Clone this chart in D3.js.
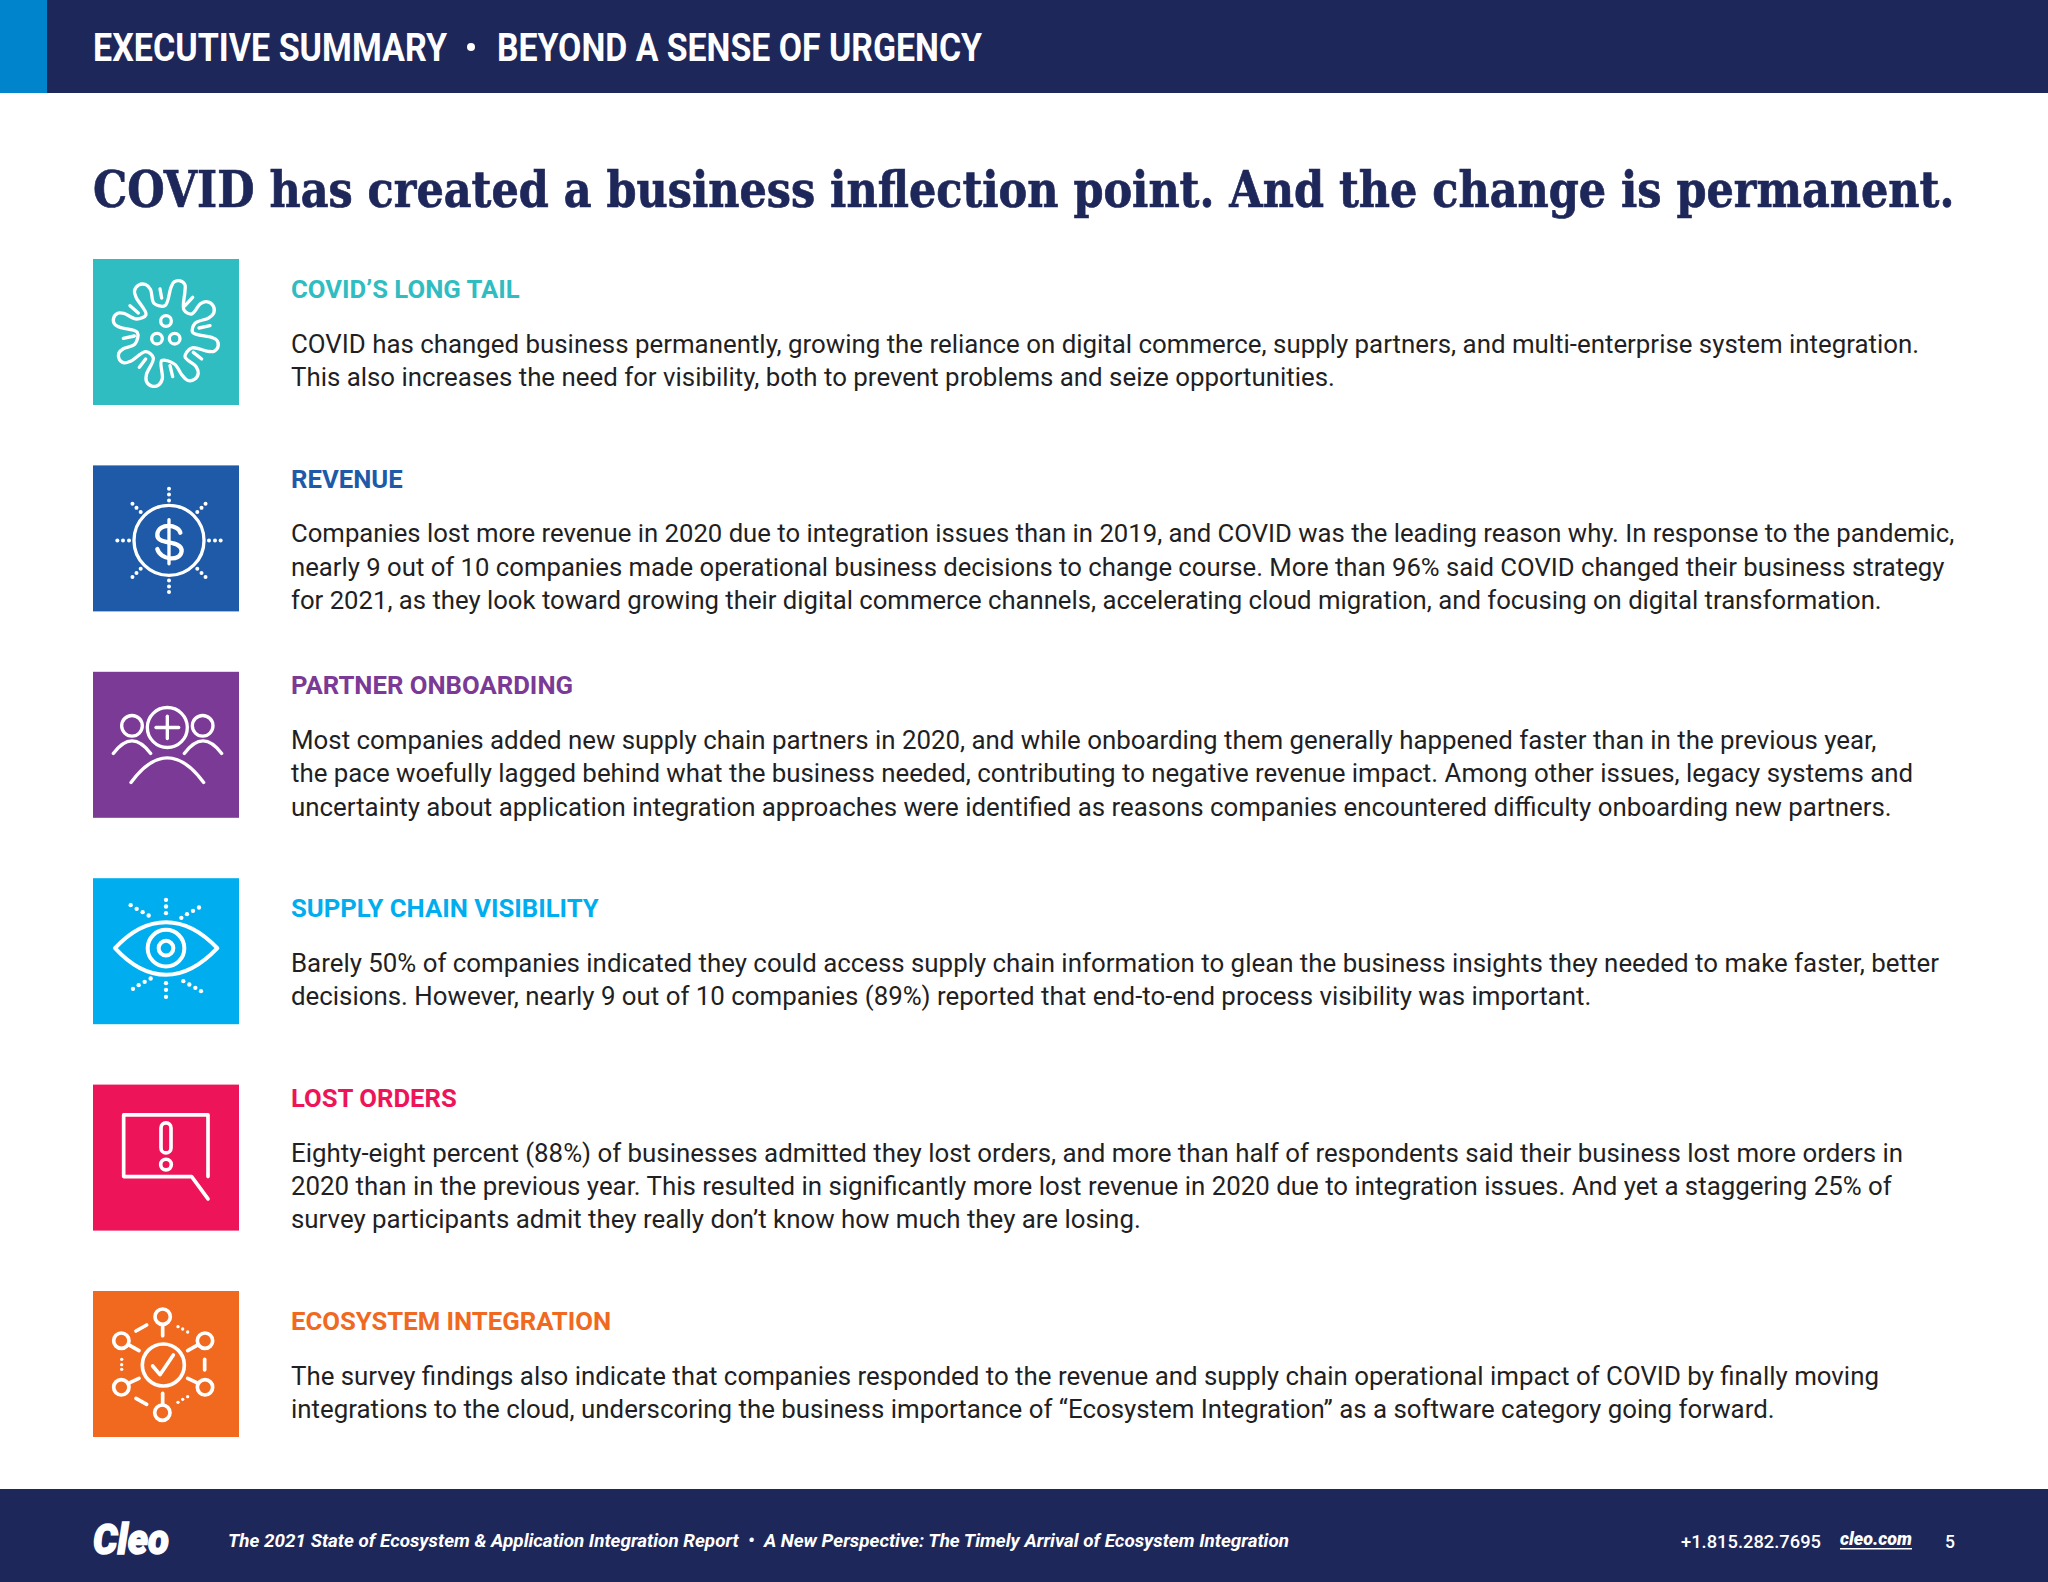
<!DOCTYPE html>
<html>
<head>
<meta charset="utf-8">
<script src="https://cdn.jsdelivr.net/npm/d3@7"></script>
<style>
  html, body { margin: 0; padding: 0; background: #fff; }
  svg { display: block; }
  text { font-family: Roboto, sans-serif; }
</style>
</head>
<body>
<div id="chart"></div>
<script>
const headerLeft = "EXECUTIVE SUMMARY";
const headerRight = "BEYOND A SENSE OF URGENCY";
const pageTitle = "COVID has created a business inflection point. And the change is permanent.";

const sectionNames = [
  "COVID’S LONG TAIL",
  "REVENUE",
  "PARTNER ONBOARDING",
  "SUPPLY CHAIN VISIBILITY",
  "LOST ORDERS",
  "ECOSYSTEM INTEGRATION",
];
const sectionColors = ["#2fbdc1", "#1e5aa8", "#7b3a96", "#00aeef", "#ed1459", "#f0691f"];
const sectionLines = [
  [
    "COVID has changed business permanently, growing the reliance on digital commerce, supply partners, and multi-enterprise system integration.",
    "This also increases the need for visibility, both to prevent problems and seize opportunities.",
  ],
  [
    "Companies lost more revenue in 2020 due to integration issues than in 2019, and COVID was the leading reason why. In response to the pandemic,",
    "nearly 9 out of 10 companies made operational business decisions to change course. More than 96% said COVID changed their business strategy",
    "for 2021, as they look toward growing their digital commerce channels, accelerating cloud migration, and focusing on digital transformation.",
  ],
  [
    "Most companies added new supply chain partners in 2020, and while onboarding them generally happened faster than in the previous year,",
    "the pace woefully lagged behind what the business needed, contributing to negative revenue impact. Among other issues, legacy systems and",
    "uncertainty about application integration approaches were identified as reasons companies encountered difficulty onboarding new partners.",
  ],
  [
    "Barely 50% of companies indicated they could access supply chain information to glean the business insights they needed to make faster, better",
    "decisions. However, nearly 9 out of 10 companies (89%) reported that end-to-end process visibility was important.",
  ],
  [
    "Eighty-eight percent (88%) of businesses admitted they lost orders, and more than half of respondents said their business lost more orders in",
    "2020 than in the previous year. This resulted in significantly more lost revenue in 2020 due to integration issues. And yet a staggering 25% of",
    "survey participants admit they really don’t know how much they are losing.",
  ],
  [
    "The survey findings also indicate that companies responded to the revenue and supply chain operational impact of COVID by finally moving",
    "integrations to the cloud, underscoring the business importance of “Ecosystem Integration” as a software category going forward.",
  ],
];

const footerReport = "The 2021 State of Ecosystem & Application Integration Report  •  A New Perspective: The Timely Arrival of Ecosystem Integration";
const footerPhone = "+1.815.282.7695";
const footerSite = "cleo.com";
const footerPage = "5";

const width = 2048;
const height = 1582;
const navy = "#1e2759";
const ink = "#1f1f24";
const boxSize = 146;
const bodyStep = 33.4;

const svg = d3.select("#chart").append("svg").attr("width", width).attr("height", height);

// stretch or squeeze a text to the width it has in the original
function fit(sel, w) {
  return sel.attr("textLength", w).attr("lengthAdjust", "spacingAndGlyphs").style("white-space", "pre");
}

// header
svg.append("rect").attr("width", width).attr("height", 93).attr("fill", navy);
svg.append("rect").attr("width", 47).attr("height", 93).attr("fill", "#0085cc");
svg.append("text").attr("x", 93).attr("y", 61).attr("fill", "#fff")
  .attr("font-size", 39).attr("font-weight", 700).text(headerLeft).call(fit, 354);
svg.append("circle").attr("cx", 471).attr("cy", 47).attr("r", 4).attr("fill", "#fff");
svg.append("text").attr("x", 497).attr("y", 61).attr("fill", "#fff")
  .attr("font-size", 39).attr("font-weight", 700).text(headerRight).call(fit, 485);

// no slab face installed, so the condensed serif is scaled to the title's width
const titleText = svg.append("text").attr("fill", navy).attr("stroke", navy).attr("stroke-width", 0.7)
  .style("font-family", "'DejaVu Serif Condensed', 'DejaVu Serif', serif")
  .attr("font-size", 51).attr("font-weight", 700).text(pageTitle);
titleText.attr("transform", `translate(93,207) scale(${1862 / titleText.node().getComputedTextLength()},1)`);

// rows
const rowY = d3.scaleLinear().domain([0, sectionNames.length - 1]).range([259, 1291]);

const rows = svg.selectAll("g.row")
  .data(sectionNames)
  .join("g")
  .attr("class", "row")
  .attr("transform", (d, i) => `translate(0,${rowY(i)})`);

rows.append("rect").attr("x", 93).attr("width", boxSize).attr("height", boxSize)
  .attr("fill", (d, i) => sectionColors[i]);

rows.append("text").attr("x", 291)
  .attr("y", (d, i) => (sectionLines[i].length === 2 ? 39 : 22.5))
  .attr("font-size", 25.7).attr("font-weight", 700)
  .attr("fill", (d, i) => sectionColors[i])
  .text((d) => d);

rows.each(function (d, i) {
  const top = sectionLines[i].length === 2 ? 38 : 21.5;
  d3.select(this).selectAll("text.body")
    .data(sectionLines[i])
    .join("text")
    .attr("class", "body")
    .attr("x", 291)
    .attr("y", (_, j) => top + 55.5 + j * bodyStep)
    .attr("font-size", i === 1 ? 25.69 : 25.85) // the revenue block runs a touch narrower
    .attr("fill", ink)
    .text((t) => t);
});

// icons, all traced on the 3x crop of each box
const iconTops = [25, 45, 665, 55, 675, 63];
const icons = rows.append("g")
  .attr("transform", (d, i) => `translate(${80},${-iconTops[i] / 3}) scale(${1 / 3})`)
  .attr("fill", "none").attr("stroke", "#fff").attr("stroke-width", 10)
  .attr("stroke-linecap", "round").attr("stroke-linejoin", "round");

function dots(g, pts, r) {
  g.selectAll(null).data(pts).join("circle")
    .attr("cx", (p) => p[0]).attr("cy", (p) => p[1]).attr("r", r)
    .attr("fill", "#fff").attr("stroke", "none");
}
function segs(g, list) {
  g.selectAll(null).data(list).join("line")
    .attr("x1", (s) => s[0]).attr("y1", (s) => s[1]).attr("x2", (s) => s[2]).attr("y2", (s) => s[3]);
}
function rings(g, list) {
  g.selectAll(null).data(list).join("circle")
    .attr("cx", (c) => c[0]).attr("cy", (c) => c[1]).attr("r", (c) => c[2]);
}

const drawIcon = [
  function virus(g) {
    // round bulbs with a flat valley between each pair
    const bulbs = [[295, 112, 22], [378, 178, 25], [393, 282, 22], [330, 365, 25],
      [222, 382, 25], [137, 315, 22], [122, 208, 22], [188, 125, 25]];
    const valleys = [
      [[312, 178], [335, 190]], [[345, 218], [338, 245]], [[335, 292], [315, 318]], [[283, 340], [245, 330]],
      [[220, 322], [198, 303]], [[165, 280], [172, 245]], [[170, 205], [198, 192]], [[222, 158], [255, 165]],
    ];
    const outline = [];
    bulbs.forEach((b, i) => {
      const a = Math.atan2(b[1] - 248, b[0] - 258);
      [-100, -50, 0, 50, 100].forEach((t) => {
        const ang = a + t * Math.PI / 180;
        outline.push([b[0] + b[2] * Math.cos(ang), b[1] + b[2] * Math.sin(ang)]);
      });
      outline.push(...valleys[i]);
    });
    g.append("path").attr("d", d3.line().curve(d3.curveCatmullRomClosed)(outline));
    segs(g, [[240, 115, 245, 142], [338, 140, 315, 165], [390, 225, 357, 232], [365, 325, 340, 305],
      [278, 378, 270, 345], [178, 350, 197, 325], [130, 263, 163, 256], [150, 165, 175, 187]]);
    rings(g, [[258, 211, 16], [231, 264, 16], [284, 264, 16]]);
  },
  function dollar(g) {
    rings(g, [[267, 270, 105]]);
    g.append("path").attr("stroke-width", 13)
      .attr("d", "M301,247 C296,222 236,216 232,252 C229,286 305,266 305,302 C301,336 240,328 232,296");
    segs(g, [[267, 208, 267, 340]]);
    const pts = [];
    d3.range(8).forEach((k) => [120, 138, 155].forEach((r) => {
      pts.push([267 + r * Math.cos(k * Math.PI / 4), 270 + r * Math.sin(k * Math.PI / 4)]);
    }));
    dots(g, pts, 6);
  },
  function partner(g) {
    rings(g, [[262, 832, 60], [156, 827, 31], [368, 827, 31]]);
    segs(g, [[228, 832, 296, 832], [262, 798, 262, 865]]);
    g.append("path").attr("d", "M100,910 Q156,834 212,910 M313,910 Q369,834 425,910 M153,997 Q262,849 371,997");
  },
  function eye(g) {
    g.attr("stroke-width", 12);
    g.append("path").attr("d", "M105,265 C160,205 210,187 258,187 C305,187 355,205 412,265 C355,325 305,345 258,345 C210,345 160,325 105,265Z");
    rings(g, [[258, 265, 55], [258, 265, 22]]);
    dots(g, [[258, 120], [258, 140], [258, 160], [152, 136], [170, 147], [188, 157], [206, 167],
      [357, 143], [339, 153], [321, 163], [304, 174], [258, 370], [258, 390], [258, 411],
      [212, 356], [194, 366], [176, 376], [159, 387], [310, 364], [328, 374], [346, 384], [363, 394]], 6.5);
  },
  function alert(g) {
    g.attr("stroke-width", 11);
    g.append("path").attr("d", "M384,951 V766 H131 V951 H335 L384,1018");
    g.append("rect").attr("x", 243).attr("y", 790).attr("width", 30).attr("height", 90).attr("rx", 15);
    rings(g, [[258, 915, 16]]);
  },
  function ecosystem(g) {
    g.attr("stroke-width", 11);
    rings(g, [[250, 285, 63], [248, 140, 23], [375, 212, 23], [375, 352, 23], [247, 428, 23], [124, 352, 23], [124, 212, 23]]);
    g.append("path").attr("d", "M218,288 L240,314 L280,255");
    segs(g, [[248, 164, 248, 197], [248, 404, 248, 370], [355, 224, 323, 242], [355, 340, 323, 325],
      [145, 340, 177, 325], [145, 224, 177, 242], [168, 183, 200, 165], [168, 385, 200, 403], [374, 268, 374, 300]]);
    dots(g, [[294, 170], [308, 177], [323, 186], [294, 397], [308, 388], [323, 380], [125, 268], [125, 284], [125, 298]], 5);
  },
];
icons.each(function (d, i) { drawIcon[i](d3.select(this)); });

// footer
const footer = svg.append("g");
footer.append("rect").attr("y", 1489).attr("width", width).attr("height", height - 1489).attr("fill", navy);
footer.append("text").attr("x", 93).attr("y", 1554).attr("fill", "#fff").attr("stroke", "#fff").attr("stroke-width", 1.5)
  .attr("font-size", 43).attr("font-weight", 900).attr("font-style", "italic").text("Cleo").call(fit, 76);
footer.append("text").attr("x", 228).attr("y", 1547).attr("fill", "#fff")
  .attr("font-size", 17.5).attr("font-weight", 700).attr("font-style", "italic").text(footerReport).call(fit, 1061);
footer.append("text").attr("x", 1681).attr("y", 1548).attr("fill", "#fff")
  .attr("font-size", 17.5).attr("font-weight", 500).text(footerPhone).call(fit, 140);
footer.append("text").attr("x", 1840).attr("y", 1545).attr("fill", "#fff")
  .attr("font-size", 17.5).attr("font-weight", 900).attr("font-style", "italic").text(footerSite).call(fit, 72);
footer.append("rect").attr("x", 1840).attr("y", 1548).attr("width", 72).attr("height", 1.5).attr("fill", "#fff");
footer.append("text").attr("x", 1945).attr("y", 1548).attr("fill", "#fff")
  .attr("font-size", 17.5).attr("font-weight", 500).text(footerPage);
</script>
</body>
</html>
